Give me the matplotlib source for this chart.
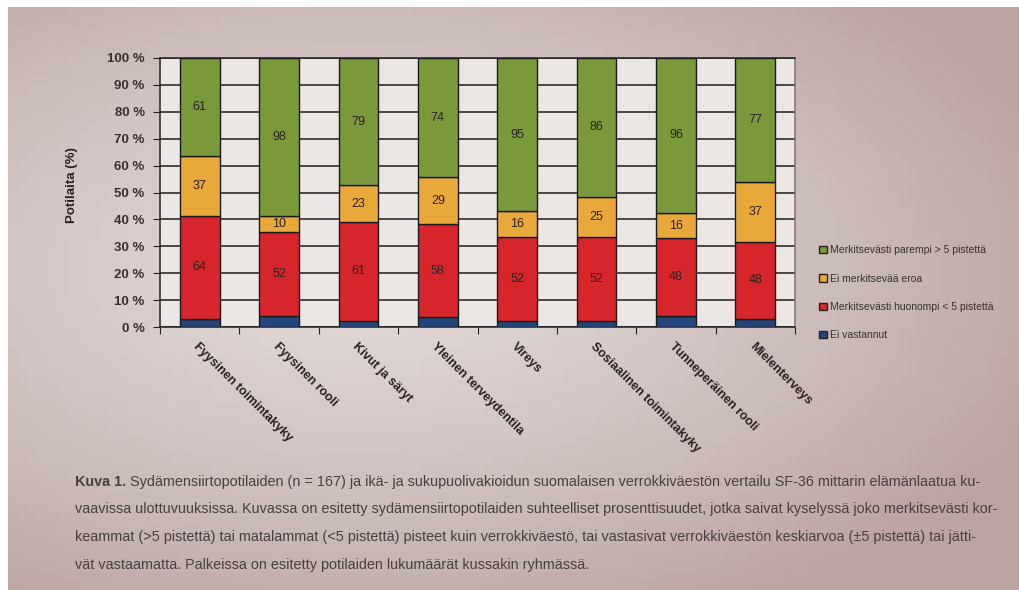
import numpy as np
import matplotlib
matplotlib.use('Agg')
import matplotlib.pyplot as plt
from matplotlib.patches import Patch
from matplotlib.colors import to_rgb

plt.rcParams['font.family'] = ['Liberation Sans', 'DejaVu Sans']

# --- data (patient counts per group, n = 167) ---
categories = ['Fyysinen toimintakyky', 'Fyysinen rooli', 'Kivut ja säryt',
              'Yleinen terveydentila', 'Vireys', 'Sosiaalinen toimintakyky',
              'Tunneperäinen rooli', 'Mielenterveys']
better = [61, 98, 79, 74, 95, 86, 96, 77]
no_diff = [37, 10, 23, 29, 16, 25, 16, 37]
worse = [64, 52, 61, 58, 52, 52, 48, 48]
no_answer = [5, 7, 4, 6, 4, 4, 7, 5]
n_total = 167

series = [
    ('Ei vastannut', no_answer, '#24457a'),
    ('Merkitsevästi huonompi < 5 pistettä', worse, '#d6262b'),
    ('Ei merkitsevää eroa', no_diff, '#e9a83a'),
    ('Merkitsevästi parempi > 5 pistettä', better, '#7a993b'),
]
yticks = list(range(0, 101, 10))

caption = [
    'Sydämensiirtopotilaiden (n = 167) ja ikä- ja sukupuolivakioidun suomalaisen verrokkiväestön vertailu SF-36 mittarin elämänlaatua ku-',
    'vaavissa ulottuvuuksissa. Kuvassa on esitetty sydämensiirtopotilaiden suhteelliset prosenttisuudet, jotka saivat kyselyssä joko merkitsevästi kor-',
    'keammat (>5 pistettä) tai matalammat (<5 pistettä) pisteet kuin verrokkiväestö, tai vastasivat verrokkiväestön keskiarvoa (±5 pistettä) tai jätti-',
    'vät vastaamatta. Palkeissa on esitetty potilaiden lukumäärät kussakin ryhmässä.',
]

W, H = 1019, 590
fig = plt.figure(figsize=(W / 100, H / 100), dpi=100)
fig.patch.set_facecolor('white')

# photographed page background (lighter in the middle-left, darker at the right)
bg = fig.add_axes([8 / W, 0, (W - 8) / W, (H - 7) / H])
yy, xx = np.mgrid[0:1:60j, 0:1:100j]
light = np.array(to_rgb('#e2dad8'))
dark = np.array(to_rgb('#bba5a3'))
d = np.clip(np.sqrt(((xx - 0.35) * 1.1) ** 2 + ((yy - 0.45) * 1.2) ** 2) / 0.8, 0, 1) ** 1.3
img = light[None, None, :] * (1 - d[..., None]) + dark[None, None, :] * d[..., None]
bg.imshow(img, aspect='auto', extent=[0, 1, 0, 1], origin='upper')
bg.set_axis_off()

ax = fig.add_axes([160 / W, 1 - 327 / H, 635 / W, 269 / H])
ax.set_facecolor('#ece7e5')
x = np.arange(len(categories))
bottom = np.zeros(len(categories))
for label, counts, color in series:
    pct = np.array(counts) / n_total * 100
    ax.bar(x, pct, width=0.5, bottom=bottom, color=color, edgecolor='#1a1a1a',
           linewidth=1.0, label=label, zorder=3)
    if label != 'Ei vastannut':
        for xi, b, p, c in zip(x, bottom, pct, counts):
            ax.text(xi, b + p / 2, str(c), ha='center', va='center', fontsize=9,
                    color='#2a2222', zorder=4)
    bottom += pct

ax.set_xlim(-0.5, len(categories) - 0.5)
ax.set_ylim(0, 100)
ax.set_yticks(yticks)
ax.set_yticklabels([f'{t} %' for t in yticks], fontsize=9.5, fontweight='bold', color='#3a3030')
ax.yaxis.grid(True, color='#1e1e1e', linewidth=1.1, zorder=1)
ax.set_axisbelow(True)
ax.set_xticks(np.arange(-0.5, len(categories), 1))
ax.set_xticklabels([])
ax.tick_params(axis='x', length=5, color='#222')
ax.tick_params(axis='y', length=5, color='#222', pad=6)
for s in ax.spines.values():
    s.set_color('#222')
    s.set_linewidth(1.1)
ax.spines['right'].set_color('#777')

for xi, cat in zip(x, categories):
    ax.text(xi, -5, cat, rotation=-45, rotation_mode='anchor', ha='left', va='top',
            fontsize=9, fontweight='bold', color='#2a2222')

fig.text(72 / W, 1 - 185 / H, 'Potilaita (%)', rotation=90, ha='center', va='center',
         fontsize=9.5, fontweight='bold', color='#2a2222')

handles = [Patch(facecolor=c, edgecolor='#222', label=l) for l, _, c in series[::-1]]
fig.legend(handles=handles, loc='upper left', bbox_to_anchor=(810 / W, 1 - 236 / H),
           frameon=False, fontsize=7.5, handlelength=0.7, handleheight=0.7,
           handletextpad=0.3, labelspacing=1.75, labelcolor='#3a3030')

# caption: pick a size so the longest line spans the printed text block
fig.canvas.draw()
renderer = fig.canvas.get_renderer()
x0 = 75 / W
probe = fig.text(0, 0, caption[1], fontsize=10)
cap_size = 10 * 922 / probe.get_window_extent(renderer).width
probe.remove()
t = fig.text(x0, 1 - 482 / H, 'Kuva 1.', fontsize=cap_size, fontweight='bold',
             color='#4a4040', va='center')
ext = t.get_window_extent(renderer)
fig.text((ext.x1 + 4) / W, 1 - 482 / H, caption[0], fontsize=cap_size, color='#4a4040',
         va='center')
for i, line in enumerate(caption[1:], start=1):
    fig.text(x0, 1 - (482 + 27.5 * i) / H, line, fontsize=cap_size, color='#4a4040',
             va='center')

fig.savefig('out.png', dpi=100)
